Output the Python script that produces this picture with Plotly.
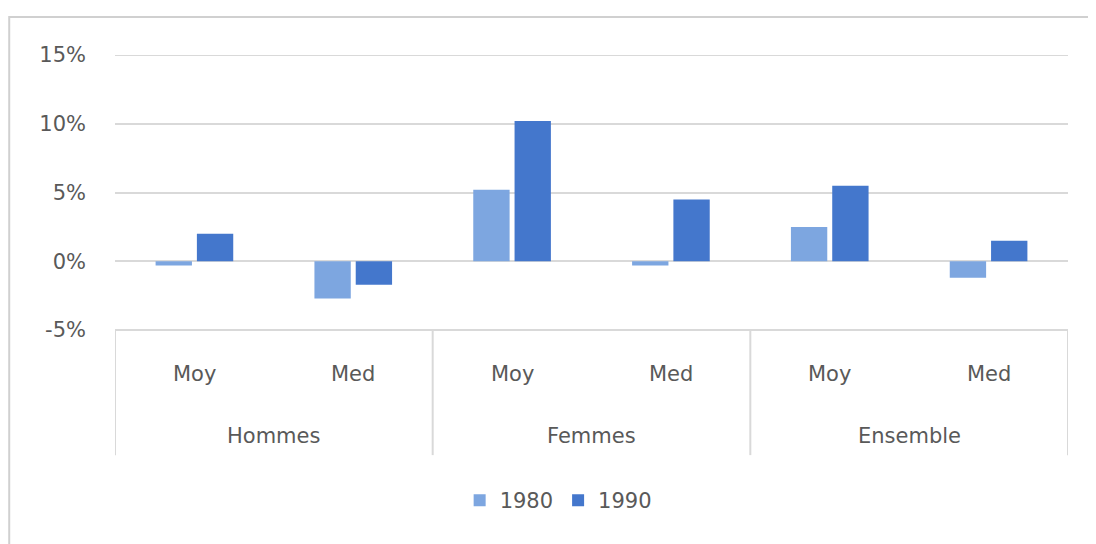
import plotly.graph_objects as go

groups = ["Hommes", "Femmes", "Ensemble"]
subcats = ["Moy", "Med"]
series_names = ["1980", "1990"]
values_1980 = [-0.3, -2.7, 5.2, -0.3, 2.5, -1.2]
values_1990 = [2.0, -1.7, 10.2, 4.5, 5.5, 1.5]
colors = ["#7DA6E0", "#4477CC"]
y_ticks = [-5, 0, 5, 10, 15]
y_ticklabels = ["-5%", "0%", "5%", "10%", "15%"]

labels = [(g, s) for g in groups for s in subcats]
xpos = list(range(len(labels)))

FONT = "DejaVu Sans"
TXT = "#595959"
GRID = "#D9D9D9"

fig = go.Figure()
for name, vals, col in zip(series_names, [values_1980, values_1990], colors):
    fig.add_trace(go.Bar(x=xpos, y=vals, name=name, marker=dict(color=col, line=dict(width=0))))

shapes = []
# outer chart border
shapes.append(dict(type="rect", xref="paper", yref="paper", x0=-0.111, x1=1.2, y0=-0.9, y1=1.138,
                   line=dict(color="#D0D0D0", width=2), fillcolor="rgba(0,0,0,0)", layer="below"))
# top gridline (edge of range)
shapes.append(dict(type="line", xref="paper", yref="y", x0=0, x1=1, y0=y_ticks[-1], y1=y_ticks[-1],
                   line=dict(color=GRID, width=2), layer="below"))
# category box
nsub = len(subcats)
for i in range(len(groups) + 1):
    xb = i * nsub - 0.5
    shapes.append(dict(type="line", xref="x", yref="paper", x0=xb, x1=xb, y0=0, y1=-0.455,
                       line=dict(color=GRID, width=2)))
shapes.append(dict(type="line", xref="paper", yref="paper", x0=0, x1=1, y0=0, y1=0,
                   line=dict(color=GRID, width=2)))

annotations = []
for i, (g, s) in enumerate(labels):
    annotations.append(dict(x=i, y=-0.16, xref="x", yref="paper", text=s, showarrow=False,
                            font=dict(family=FONT, size=21, color=TXT), yanchor="middle"))
for j, g in enumerate(groups):
    annotations.append(dict(x=j * nsub + (nsub - 1) / 2, y=-0.385, xref="x", yref="paper", text=g,
                            showarrow=False, font=dict(family=FONT, size=21, color=TXT), yanchor="middle"))

fig.update_layout(
    width=1088, height=536,
    margin=dict(l=107, r=28, t=47, b=214),
    paper_bgcolor="white", plot_bgcolor="white",
    barmode="group", bargap=0.48, bargroupgap=0.12,
    shapes=shapes, annotations=annotations,
    legend=dict(orientation="h", x=0.465, xanchor="center", y=-0.62, yanchor="middle",
                font=dict(family=FONT, size=21, color=TXT), itemwidth=30, traceorder="normal"),
    xaxis=dict(range=[-0.5, len(labels) - 0.5], showticklabels=False, showgrid=False, zeroline=False,
               showline=False),
    yaxis=dict(range=[-5, 15], tickvals=y_ticks, ticktext=y_ticklabels, showgrid=True, gridcolor=GRID,
               gridwidth=2, zeroline=False, showline=False,
               tickfont=dict(family=FONT, size=21, color=TXT), ticklabelstandoff=28),
)

fig.write_html("out.html")
